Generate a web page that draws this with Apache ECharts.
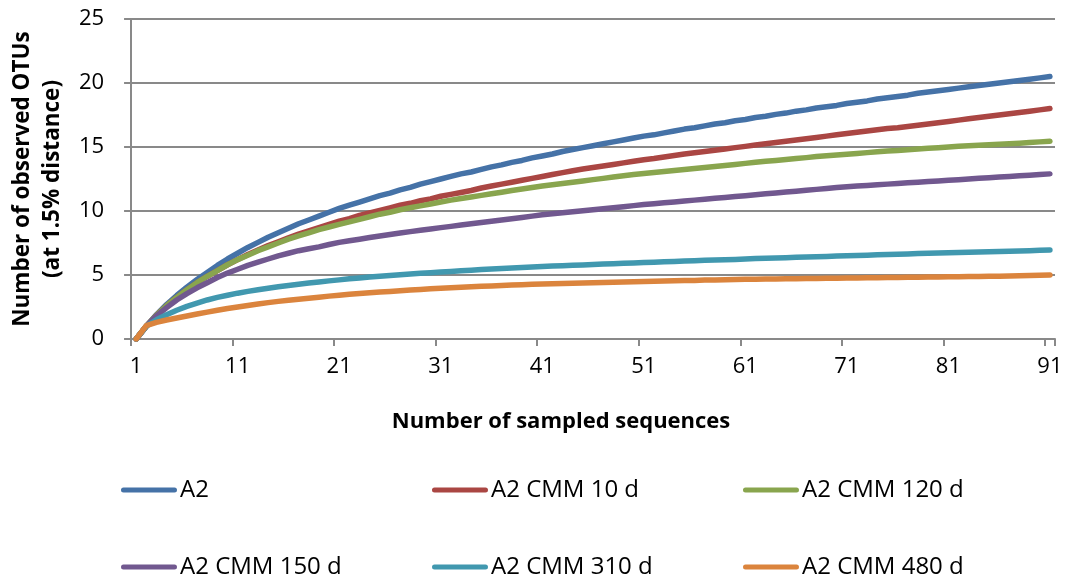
<!DOCTYPE html>
<html>
<head>
<meta charset="utf-8">
<title>Rarefaction curves</title>
<script src="https://cdn.jsdelivr.net/npm/echarts@6/dist/echarts.min.js"></script>
<style>
  html, body { margin: 0; padding: 0; background: #ffffff; }
  #chart { width: 1070px; height: 582px; }
</style>
</head>
<body>
<div id="chart"></div>
<script>
// Number of sampled sequences: 1 .. 91
const sampleCounts = [];
for (let i = 1; i <= 91; i++) sampleCounts.push(String(i));

const seriesNames = ['A2', 'A2 CMM 10 d', 'A2 CMM 120 d', 'A2 CMM 150 d', 'A2 CMM 310 d', 'A2 CMM 480 d'];
const seriesColors = ['#4572A7', '#AA4643', '#89A54E', '#71588F', '#4198AF', '#DB843D'];

// Observed OTUs (1.5% distance) per sample size
const otuA2 = [
  0, 1.0, 1.9, 2.7, 3.4, 4.05, 4.65, 5.2, 5.75, 6.25,
  6.7, 7.15, 7.55, 7.95, 8.3, 8.65, 9.0, 9.3, 9.6, 9.9,
  10.2, 10.45, 10.7, 10.95, 11.2, 11.4, 11.65, 11.85, 12.1, 12.3,
  12.5, 12.7, 12.9, 13.05, 13.25, 13.45, 13.6, 13.8, 13.95, 14.15,
  14.3, 14.45, 14.65, 14.8, 14.95, 15.1, 15.25, 15.4, 15.55, 15.7,
  15.85, 15.95, 16.1, 16.25, 16.4, 16.5, 16.65, 16.8, 16.9, 17.05,
  17.15, 17.3, 17.4, 17.55, 17.65, 17.8, 17.9, 18.05, 18.15, 18.25,
  18.4, 18.5, 18.6, 18.75, 18.85, 18.95, 19.05, 19.2, 19.3, 19.4,
  19.5, 19.6, 19.7, 19.8, 19.9, 20.0, 20.1, 20.2, 20.3, 20.4,
  20.5
];
const otuCmm10 = [
  0, 1.0, 1.85, 2.6, 3.25, 3.85, 4.4, 4.9, 5.35, 5.8,
  6.2, 6.6, 6.95, 7.3, 7.6, 7.9, 8.2, 8.45, 8.7, 8.95,
  9.2, 9.4, 9.65, 9.85, 10.05, 10.25, 10.45, 10.6, 10.8, 10.95,
  11.15, 11.3, 11.45, 11.6, 11.8, 11.95, 12.1, 12.25, 12.4, 12.55,
  12.7, 12.85, 13.0, 13.15, 13.28, 13.4, 13.52, 13.64, 13.76, 13.88,
  14.0, 14.1, 14.22, 14.33, 14.45, 14.55, 14.65, 14.75, 14.85, 14.95,
  15.05, 15.15, 15.25, 15.35, 15.45, 15.55, 15.65, 15.75, 15.85, 15.95,
  16.05, 16.15, 16.25, 16.35, 16.45, 16.5, 16.6, 16.7, 16.8, 16.9,
  17.0, 17.1, 17.2, 17.3, 17.4, 17.5, 17.6, 17.7, 17.8, 17.9,
  18.0
];
const otuCmm120 = [
  0, 1.0, 1.85, 2.6, 3.25, 3.85, 4.4, 4.9, 5.35, 5.8,
  6.2, 6.55, 6.9, 7.2, 7.5, 7.8, 8.05, 8.3, 8.55, 8.75,
  8.95, 9.15, 9.35, 9.55, 9.75, 9.9, 10.1, 10.25, 10.4, 10.55,
  10.7, 10.85, 10.98, 11.1, 11.22, 11.35, 11.47, 11.6, 11.72, 11.84,
  11.95, 12.05, 12.15, 12.25, 12.35, 12.45, 12.55, 12.65, 12.75, 12.85,
  12.93, 13.0, 13.08, 13.16, 13.24, 13.32, 13.4, 13.48, 13.56, 13.64,
  13.72, 13.8, 13.88, 13.95, 14.02, 14.1, 14.17, 14.25, 14.32, 14.38,
  14.44, 14.5, 14.56, 14.62, 14.68, 14.73, 14.78, 14.84, 14.9, 14.95,
  15.0, 15.05, 15.09, 15.13, 15.17, 15.21, 15.25, 15.3, 15.35, 15.4,
  15.45
];
const otuCmm150 = [
  0, 1.0, 1.8, 2.45, 3.05, 3.55, 4.0, 4.4, 4.8, 5.15,
  5.45, 5.75, 6.0, 6.25, 6.5, 6.7, 6.9, 7.05, 7.2, 7.38,
  7.55, 7.68, 7.8, 7.93, 8.05, 8.17, 8.28, 8.39, 8.5, 8.6,
  8.7, 8.8, 8.9, 9.0, 9.1, 9.2, 9.3, 9.4, 9.5, 9.6,
  9.7, 9.78, 9.86, 9.94, 10.02, 10.1, 10.18, 10.26, 10.34, 10.42,
  10.5, 10.57, 10.64, 10.71, 10.78, 10.85, 10.92, 10.99, 11.06, 11.13,
  11.2, 11.27, 11.34, 11.41, 11.48, 11.55, 11.62, 11.69, 11.76, 11.83,
  11.9, 11.95, 12.0, 12.05, 12.1, 12.15, 12.2, 12.25, 12.3, 12.35,
  12.4, 12.45, 12.5, 12.55, 12.6, 12.65, 12.7, 12.75, 12.8, 12.85,
  12.9
];
const otuCmm310 = [
  0, 1.0, 1.5, 1.9, 2.25, 2.55, 2.8, 3.05, 3.25, 3.42,
  3.58, 3.72, 3.85, 3.97, 4.08, 4.18, 4.28, 4.37, 4.46, 4.54,
  4.62, 4.7, 4.77, 4.84, 4.9, 4.96, 5.02, 5.08, 5.13, 5.18,
  5.23, 5.28, 5.33, 5.38, 5.43, 5.47, 5.51, 5.55, 5.59, 5.63,
  5.67, 5.7, 5.73, 5.76, 5.79, 5.82, 5.85, 5.88, 5.91, 5.94,
  5.97, 6.0, 6.03, 6.06, 6.09, 6.12, 6.15, 6.17, 6.2, 6.22,
  6.25, 6.28, 6.3, 6.33, 6.35, 6.38, 6.4, 6.43, 6.45, 6.48,
  6.5, 6.53, 6.55, 6.58, 6.6, 6.62, 6.65, 6.67, 6.7, 6.72,
  6.74, 6.76, 6.78, 6.8, 6.82, 6.84, 6.86, 6.88, 6.9, 6.93,
  6.95
];
const otuCmm480 = [
  0, 1.05, 1.3, 1.48, 1.64, 1.8, 1.95, 2.1, 2.24, 2.38,
  2.5, 2.62, 2.73, 2.84, 2.94, 3.03, 3.11, 3.19, 3.27, 3.35,
  3.42, 3.49, 3.55, 3.61, 3.67, 3.72, 3.77, 3.82, 3.87, 3.92,
  3.96, 4.0, 4.04, 4.08, 4.12, 4.15, 4.18, 4.21, 4.24, 4.27,
  4.3, 4.32, 4.34, 4.36, 4.38, 4.4, 4.42, 4.44, 4.46, 4.48,
  4.5, 4.51, 4.53, 4.55, 4.57, 4.58, 4.6, 4.61, 4.63, 4.64,
  4.66, 4.67, 4.68, 4.69, 4.7, 4.71, 4.72, 4.73, 4.74, 4.75,
  4.76, 4.77, 4.78, 4.79, 4.8, 4.81, 4.82, 4.83, 4.84, 4.85,
  4.86, 4.87, 4.88, 4.89, 4.9, 4.91, 4.93, 4.95, 4.96, 4.98,
  5.0
];

const seriesValues = [otuA2, otuCmm10, otuCmm120, otuCmm150, otuCmm310, otuCmm480];

const yTickStep = 5;
const yMax = 25;

const FONT = '"Open Sans", "Noto Sans", sans-serif';
const AXIS_GREY = '#898989';

const chart = echarts.init(document.getElementById('chart'), null, { renderer: 'canvas' });

// Legend: one entry per box, laid out in a 3 x 2 grid
const legendLefts = [121, 432, 743];
const legendTops = [478, 555];
const legendBoxes = seriesNames.map((name, i) => ({
  orient: 'horizontal',
  left: legendLefts[i % 3],
  top: legendTops[Math.floor(i / 3)],
  padding: 0,
  itemWidth: 56,
  itemHeight: 20,
  icon: 'path://M0,12.5 L56,12.5 A2.75,2.75 0 0 1 56,18 L0,18 A2.75,2.75 0 0 1 0,12.5 Z',
  textStyle: { fontFamily: FONT, fontSize: 24, color: '#000', padding: [0, 0, 0, -2] },
  data: [name],
  selectedMode: false
}));

const option = {
  backgroundColor: '#ffffff',
  animation: false,
  color: seriesColors,
  legend: legendBoxes,
  grid: { left: 128, right: 15, top: 19, bottom: 243, containLabel: false },
  xAxis: {
    type: 'category',
    data: sampleCounts,
    boundaryGap: true,
    name: 'Number of sampled sequences',
    nameLocation: 'middle',
    nameGap: 72,
    nameTextStyle: { fontFamily: FONT, fontSize: 22, fontWeight: 'bold', color: '#000', padding: [0, 64, 0, 0] },
    axisLine: { lineStyle: { color: AXIS_GREY, width: 2 } },
    axisTick: { show: true, interval: 9, length: 7, lineStyle: { color: AXIS_GREY, width: 2 } },
    axisLabel: { interval: 9, margin: 17, fontFamily: FONT, fontSize: 22, color: '#000' },
    splitLine: { show: false }
  },
  yAxis: {
    type: 'value',
    min: 0,
    max: yMax,
    interval: yTickStep,
    name: 'Number of observed OTUs\n(at 1.5% distance)',
    nameLocation: 'middle',
    nameGap: 52,
    nameRotate: 90,
    nameTextStyle: { fontFamily: FONT, fontSize: 22.5, fontWeight: 'bold', color: '#000', lineHeight: 30 },
    axisLine: { show: true, lineStyle: { color: AXIS_GREY, width: 2 } },
    axisTick: { show: true, length: 7, lineStyle: { color: AXIS_GREY, width: 2 } },
    axisLabel: { margin: 27, fontFamily: FONT, fontSize: 22, color: '#000' },
    splitLine: { show: true, lineStyle: { color: AXIS_GREY, width: 2 } }
  },
  series: seriesNames.map((name, i) => ({
    name: name,
    type: 'line',
    data: seriesValues[i],
    symbol: 'none',
    smooth: false,
    lineStyle: { width: 5.5, color: seriesColors[i], cap: 'round', join: 'round' },
    itemStyle: { color: seriesColors[i] },
    z: 2 + i
  }))
};

chart.setOption(option);
</script>
</body>
</html>
